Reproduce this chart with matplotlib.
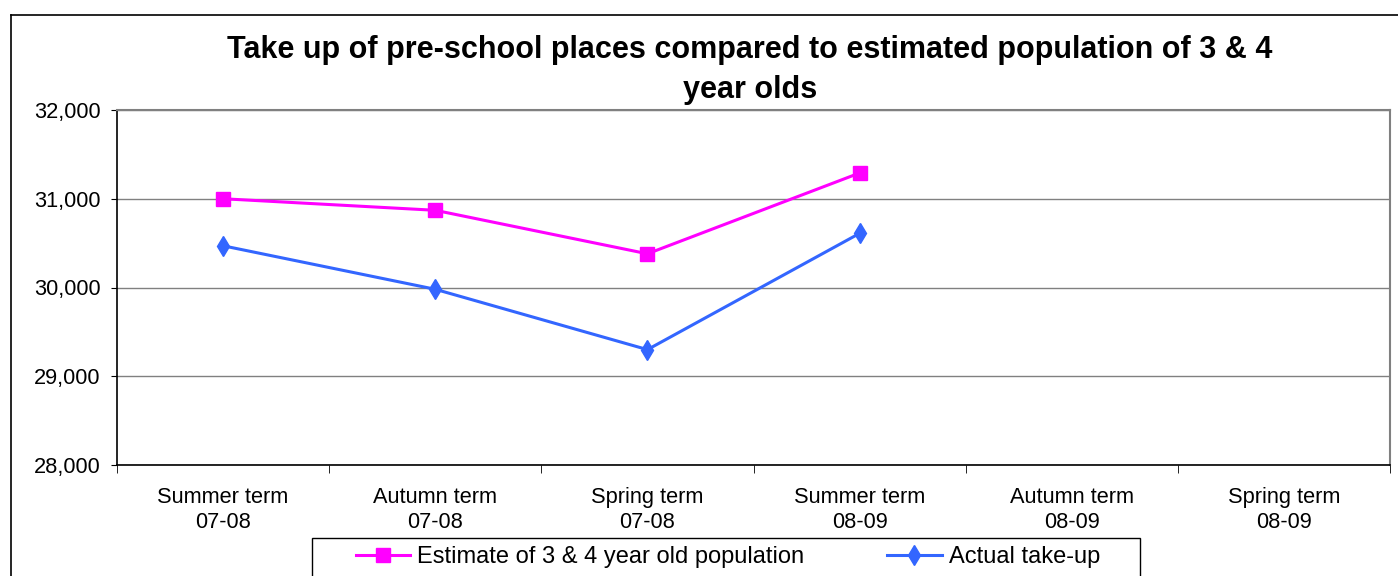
import matplotlib.pyplot as plt
from matplotlib.lines import Line2D
from matplotlib.patches import Rectangle
from matplotlib.ticker import FuncFormatter, FixedLocator

plt.rcParams['font.family'] = ['Liberation Sans', 'DejaVu Sans']

terms = ['Summer term\n07-08', 'Autumn term\n07-08', 'Spring term\n07-08',
         'Summer term\n08-09', 'Autumn term\n08-09', 'Spring term\n08-09']
estimate = [31000, 30870, 30380, 31290]
actual = [30470, 29980, 29300, 30610]
yticks = [28000, 29000, 30000, 31000, 32000]

W, H = 1398, 576
fig = plt.figure(figsize=(W / 100, H / 100), dpi=100)
ax = fig.add_axes([117 / W, 1 - 465 / H, (1390 - 117) / W, (465 - 110) / H])

ax.plot(range(len(estimate)), estimate, color='#FF00FF', lw=2.2, marker='s',
        markersize=10.5, label='Estimate of 3 & 4 year old population')
ax.plot(range(len(actual)), actual, color='#3366FF', lw=2.2, marker='d',
        markersize=10.5, label='Actual take-up')

ax.set_xlim(-0.5, len(terms) - 0.5)
ax.set_ylim(28000, 32000)
ax.set_yticks(yticks)
ax.yaxis.set_major_formatter(FuncFormatter(lambda v, p: f'{int(v):,}'))
ax.set_xticks(range(len(terms)))
ax.set_xticklabels(terms, fontsize=15.7, linespacing=1.25)
ax.xaxis.set_minor_locator(FixedLocator([i - 0.5 for i in range(len(terms) + 1)]))
ax.tick_params(axis='x', which='major', length=0, pad=16)
ax.tick_params(axis='x', which='minor', length=6, direction='out', color='black')
ax.tick_params(axis='y', length=4, direction='out', pad=8, labelsize=15.7)

ax.grid(axis='y', color='#808080', lw=1)
ax.set_axisbelow(True)
for s in ['top', 'right']:
    ax.spines[s].set_color('#808080')
    ax.spines[s].set_linewidth(1.5)
for s in ['left', 'bottom']:
    ax.spines[s].set_color('black')
    ax.spines[s].set_linewidth(1.2)

fig.text(750 / W, 1 - 35 / H,
         'Take up of pre-school places compared to estimated population of 3 & 4\nyear olds',
         ha='center', va='top', fontsize=22, fontweight='bold', linespacing=1.45)

leg = fig.legend(loc='center', bbox_to_anchor=(728 / W, 1 - 557 / H), ncol=2,
                 fontsize=17, frameon=False,
                 handlelength=2.3, handletextpad=0.3, columnspacing=3.5,
                 borderpad=0.25, borderaxespad=0)

# legend box
fig.add_artist(Rectangle((312 / W, -0.01), (1140 - 312) / W, 0.01 + (576 - 538) / H,
                         transform=fig.transFigure, fill=False, edgecolor='black', lw=1))

# outer chart frame
fig.add_artist(Line2D([11 / W, 11 / W], [0, 1 - 15 / H], transform=fig.transFigure,
                      color='black', lw=1.2))
fig.add_artist(Line2D([11 / W, 1], [1 - 15 / H, 1 - 15 / H], transform=fig.transFigure,
                      color='black', lw=1.2))

fig.savefig('out.png', dpi=100)
